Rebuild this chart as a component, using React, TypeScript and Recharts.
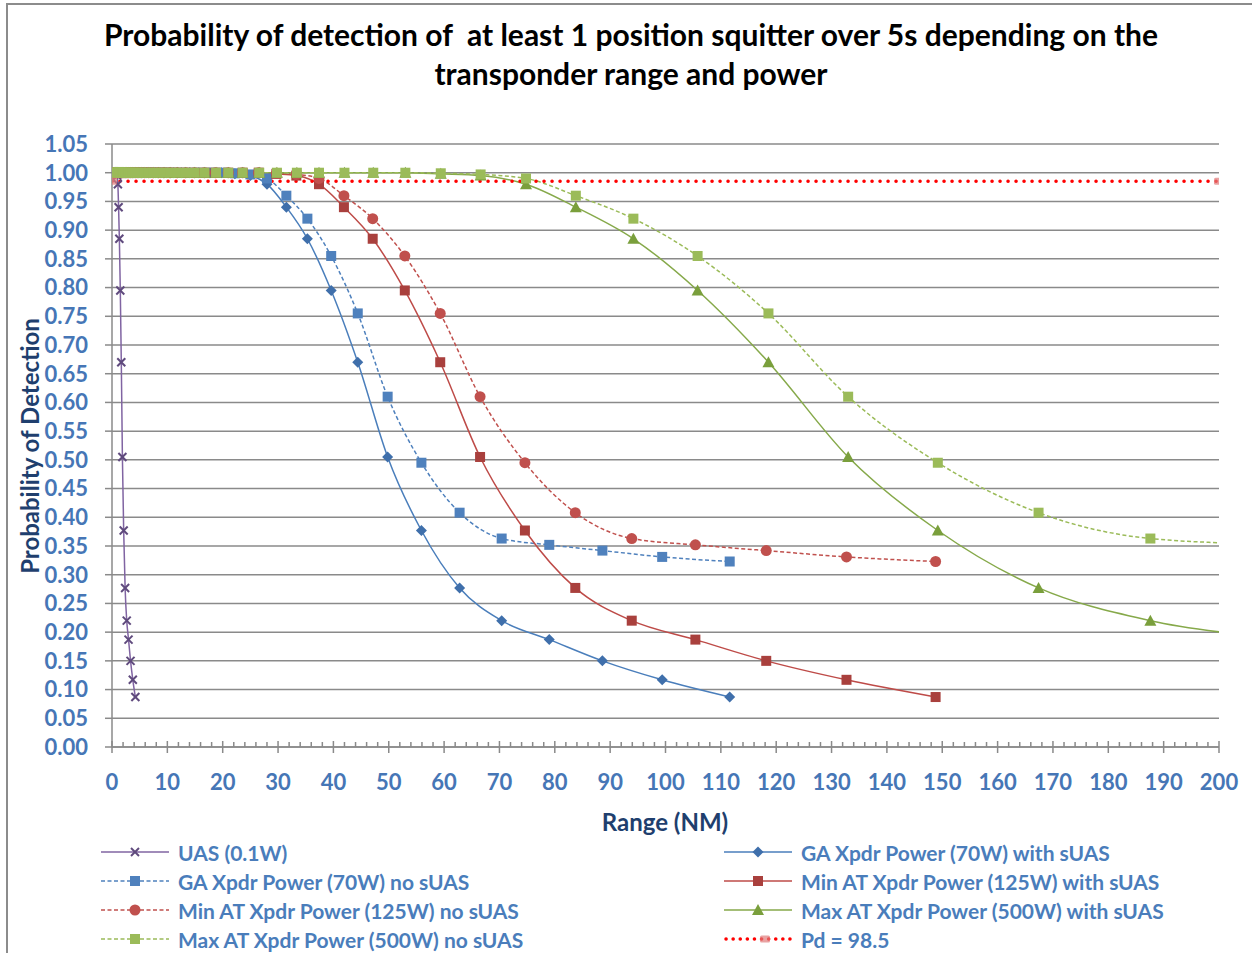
import React from 'react';
import { LineChart, Line, XAxis, YAxis, CartesianGrid } from 'recharts';

// Probability of detection per 1 dB power step (shared by all transponders)
const PD_WITH_SUAS = [
  1, 1, 1, 1, 1, 1, 1, 1, 1, 1, 1, 1, 1, 1, 1, 1, 1, 1, 1, 1,
  1, 1, 1, 1, 1, 1, 1, 1, 1, 1, 1, 1, 1, 1, 1, 1, 1, 1, 1, 1, 1,
  0.998, 0.995, 0.98, 0.94, 0.885, 0.795, 0.67, 0.505, 0.377, 0.277, 0.22, 0.187, 0.15, 0.117, 0.087,
];
const PD_NO_SUAS = [
  1, 1, 1, 1, 1, 1, 1, 1, 1, 1, 1, 1, 1, 1, 1, 1, 1, 1, 1, 1,
  1, 1, 1, 1, 1, 1, 1, 1, 1, 1, 1, 1, 1, 1, 1, 1, 1, 1, 1, 1, 1,
  0.999, 0.997, 0.99, 0.96, 0.92, 0.855, 0.755, 0.61, 0.495, 0.408, 0.363, 0.352, 0.342, 0.331, 0.323,
];

// Range (NM) for each step
const RANGE_UAS = [
  0.0075, 0.00842, 0.00945, 0.0106, 0.0119, 0.0133, 0.015, 0.0168, 0.0188, 0.0211, 0.0237, 0.0266, 0.0298, 0.0334,
  0.0375, 0.0421, 0.0472, 0.053, 0.0594, 0.0667, 0.0748, 0.084, 0.0942, 0.106, 0.119, 0.133, 0.149, 0.167, 0.188,
  0.211, 0.237, 0.266, 0.298, 0.335, 0.376, 0.422, 0.473, 0.531, 0.596, 0.669, 0.75, 0.842, 0.945,
  1.06, 1.19, 1.33, 1.5, 1.68, 1.88, 2.11, 2.37, 2.66, 2.99, 3.35, 3.76, 4.22,
];
const RANGE_GA = [
  0.199, 0.223, 0.25, 0.281, 0.315, 0.353, 0.396, 0.445, 0.499, 0.56, 0.628, 0.705, 0.79, 0.887, 0.995,
  1.12, 1.25, 1.4, 1.57, 1.77, 1.98, 2.22, 2.49, 2.8, 3.14, 3.52, 3.95, 4.43, 4.97, 5.58, 6.26, 7.02, 7.88, 8.84, 9.9,
  11.1, 12.5, 14.0, 15.7, 17.7, 19.8, 22.2, 25.0,
  28.0, 31.5, 35.3, 39.6, 44.4, 49.8, 55.9, 62.8, 70.4, 79.0, 88.6, 99.4, 111.6,
];
const RANGE_MIN_AT = [
  0.265, 0.297, 0.333, 0.374, 0.42, 0.471, 0.528, 0.593, 0.665, 0.746, 0.837, 0.939, 1.05, 1.18, 1.33,
  1.49, 1.67, 1.87, 2.1, 2.36, 2.64, 2.96, 3.33, 3.73, 4.19, 4.7, 5.27, 5.92, 6.64, 7.45, 8.36, 9.38, 10.5, 11.8,
  13.3, 14.9, 16.7, 18.7, 21.0, 23.6, 26.5, 29.7, 33.3,
  37.4, 41.9, 47.1, 52.9, 59.3, 66.5, 74.6, 83.7, 93.9, 105.4, 118.2, 132.7, 148.8,
];
const RANGE_MAX_AT = [
  0.53, 0.594, 0.666, 0.748, 0.84, 0.942, 1.06, 1.19, 1.33, 1.49, 1.67, 1.88, 2.1, 2.36, 2.66,
  2.98, 3.34, 3.74, 4.2, 4.72, 5.28, 5.92, 6.66, 7.46, 8.38, 9.4, 10.5, 11.8, 13.3, 14.9, 16.7, 18.8, 21.0, 23.6,
  26.6, 29.8, 33.4, 37.4, 42.0, 47.2, 53.0, 59.4, 66.6,
  74.8, 83.8, 94.2, 105.8, 118.6, 133.0, 149.2, 167.4, 187.6, 210.8, 236.4, 265.4, 297.6,
];

const PD_THRESHOLD = [
  { x: 0, y: 0.985 },
  { x: 200, y: 0.985 },
];

const Y_TICKS = [0, 0.05, 0.1, 0.15, 0.2, 0.25, 0.3, 0.35, 0.4, 0.45, 0.5, 0.55, 0.6, 0.65, 0.7, 0.75, 0.8, 0.85, 0.9, 0.95, 1, 1.05];
const X_TICKS = Array.from({ length: 101 }, (_, i) => i * 2);

const FONT = 'Lato, "Open Sans", sans-serif';
const GRID = '#8a8a8a';
const DASH = '4 2.5';

const toPoints = (xs: number[], ys: number[]) => xs.map((x, i) => ({ x, y: ys[i] }));

type MarkerKind = 'x' | 'diamond' | 'square' | 'circle' | 'triangle' | 'pd';

const MarkerShape = ({ kind, cx, cy, color }: { kind: MarkerKind; cx: number; cy: number; color: string }) => {
  switch (kind) {
    case 'x':
      return (
        <g stroke={color} strokeWidth={2}>
          <line x1={cx - 4} y1={cy - 4} x2={cx + 4} y2={cy + 4} />
          <line x1={cx - 4} y1={cy + 4} x2={cx + 4} y2={cy - 4} />
        </g>
      );
    case 'diamond':
      return <polygon points={`${cx},${cy - 5.5} ${cx + 5.5},${cy} ${cx},${cy + 5.5} ${cx - 5.5},${cy}`} fill={color} />;
    case 'square':
      return <rect x={cx - 5} y={cy - 5} width={10} height={10} fill={color} />;
    case 'circle':
      return <circle cx={cx} cy={cy} r={5.5} fill={color} />;
    case 'triangle':
      return <polygon points={`${cx},${cy - 6} ${cx + 6},${cy + 5} ${cx - 6},${cy + 5}`} fill={color} />;
    case 'pd':
      return <rect x={cx - 5} y={cy - 3.5} width={10} height={7} rx={1.5} fill="#e07a7a" opacity={0.7} />;
  }
  return null;
};

const dotRenderer = (kind: MarkerKind, color: string) => (props: any) => {
  const { cx, cy, index } = props;
  if (cx == null || cy == null) return <g key={`d-${index}`} />;
  return (
    <g key={`d-${index}`}>
      <MarkerShape kind={kind} cx={cx} cy={cy} color={color} />
    </g>
  );
};

type SeriesDef = {
  name: string;
  data: { x: number; y: number }[];
  stroke: string;
  marker: string;
  kind: MarkerKind;
  dash?: string;
};

const SERIES: SeriesDef[] = [
  { name: 'UAS (0.1W)', data: toPoints(RANGE_UAS, PD_WITH_SUAS), stroke: '#8064a2', marker: '#5f4a7d', kind: 'x' },
  { name: 'GA Xpdr Power (70W) with sUAS', data: toPoints(RANGE_GA, PD_WITH_SUAS), stroke: '#4a7ebb', marker: '#3f6fab', kind: 'diamond' },
  { name: 'GA Xpdr Power (70W) no sUAS', data: toPoints(RANGE_GA, PD_NO_SUAS), stroke: '#4f81bd', marker: '#4f81bd', kind: 'square', dash: DASH },
  { name: 'Min AT Xpdr Power (125W) with sUAS', data: toPoints(RANGE_MIN_AT, PD_WITH_SUAS), stroke: '#be4b48', marker: '#a9403d', kind: 'square' },
  { name: 'Min AT Xpdr Power (125W) no sUAS', data: toPoints(RANGE_MIN_AT, PD_NO_SUAS), stroke: '#c0504d', marker: '#c0504d', kind: 'circle', dash: DASH },
  { name: 'Max AT Xpdr Power (500W) with sUAS', data: toPoints(RANGE_MAX_AT, PD_WITH_SUAS), stroke: '#86a94a', marker: '#7a9f3c', kind: 'triangle' },
  { name: 'Max AT Xpdr Power (500W) no sUAS', data: toPoints(RANGE_MAX_AT, PD_NO_SUAS), stroke: '#9bbb59', marker: '#9bbb59', kind: 'square', dash: DASH },
];

const XTick = (props: any) => {
  const { x, y, payload } = props;
  const v = payload.value as number;
  const major = v % 10 === 0;
  return (
    <g>
      <line x1={x} x2={x} y1={major ? y - 6 : y - 5} y2={major ? y + 6 : y} stroke={GRID} strokeWidth={1.5} />
      {major && (
        <text x={x} y={y + 43} textAnchor="middle" fill="#4676b6" fontSize={22} fontWeight={700} fontFamily={FONT}>
          {v}
        </text>
      )}
    </g>
  );
};

const LegendIcon = ({ s }: { s: SeriesDef | null }) => (
  <svg width={68} height={16} style={{ display: 'block' }}>
    {s ? (
      <>
        <line x1={0} y1={8} x2={68} y2={8} stroke={s.stroke} strokeWidth={1.5} strokeDasharray={s.dash} />
        <MarkerShape kind={s.kind} cx={34} cy={8} color={s.marker} />
      </>
    ) : (
      <>
        <line x1={2} y1={8} x2={68} y2={8} stroke="#ff0000" strokeWidth={3.5} strokeDasharray="0.1 7" strokeLinecap="round" />
        <MarkerShape kind="pd" cx={41} cy={8} color="#e07a7a" />
      </>
    )}
  </svg>
);

const LEGEND_ROWS: { left: SeriesDef; right: SeriesDef | null; rightName: string }[] = [
  { left: SERIES[0], right: SERIES[1], rightName: SERIES[1].name },
  { left: SERIES[2], right: SERIES[3], rightName: SERIES[3].name },
  { left: SERIES[4], right: SERIES[5], rightName: SERIES[5].name },
  { left: SERIES[6], right: null, rightName: 'Pd = 98.5' },
];

const legendText: React.CSSProperties = {
  color: '#4a7dbb',
  fontSize: 21,
  fontWeight: 700,
  fontFamily: FONT,
  whiteSpace: 'nowrap',
  marginLeft: 9,
};

const axisTitle: React.CSSProperties = {
  fontFamily: FONT,
  fontWeight: 700,
  fontSize: 24,
  color: '#1f3f6e',
  textShadow: '0 0 2px #fff',
  textAlign: 'center',
  whiteSpace: 'nowrap',
};

export default function App() {
  return (
    <div style={{ position: 'absolute', left: 0, top: 0, width: 1252, height: 953, background: '#fff', overflow: 'hidden' }}>
      {/* chart frame */}
      <div style={{ position: 'absolute', left: 6, top: 3, width: 1300, height: 1000, borderLeft: '2px solid #8c8c8c', borderTop: '2px solid #8c8c8c' }} />

      <div
        style={{
          position: 'absolute',
          left: 0,
          top: 15,
          width: 1262,
          textAlign: 'center',
          fontFamily: FONT,
          fontWeight: 700,
          fontSize: 30,
          lineHeight: '39px',
          color: '#000',
          whiteSpace: 'pre',
        }}
      >
        {'Probability of detection of  at least 1 position squitter over 5s depending on the\ntransponder range and power'}
      </div>

      <div style={{ position: 'absolute', left: 0, top: 0 }}>
        <LineChart width={1252} height={953} margin={{ top: 144, right: 33, bottom: 146, left: 0 }}>
          <CartesianGrid vertical={false} stroke={GRID} strokeWidth={1.5} />
          <XAxis
            dataKey="x"
            type="number"
            domain={[0, 200]}
            allowDataOverflow
            ticks={X_TICKS}
            interval={0}
            height={60}
            tickLine={false}
            tickSize={0}
            tickMargin={0}
            tick={<XTick />}
            axisLine={{ stroke: GRID, strokeWidth: 1.5 }}
          />
          <YAxis
            type="number"
            domain={[0, 1.05]}
            ticks={Y_TICKS}
            interval={0}
            width={112}
            tickSize={7}
            tickMargin={17}
            tickFormatter={(v: number) => v.toFixed(2)}
            tick={{ fill: '#4676b6', fontSize: 22, fontWeight: 700, fontFamily: FONT }}
            tickLine={{ stroke: GRID, strokeWidth: 1.5 }}
            axisLine={{ stroke: GRID, strokeWidth: 1.5 }}
          />
          {SERIES.map((s) => (
            <Line
              key={s.name}
              name={s.name}
              data={s.data}
              dataKey="y"
              type="monotone"
              stroke={s.stroke}
              strokeWidth={1.5}
              strokeDasharray={s.dash}
              dot={dotRenderer(s.kind, s.marker)}
              activeDot={false}
              isAnimationActive={false}
            />
          ))}
          <Line
            name="Pd = 98.5"
            data={PD_THRESHOLD}
            dataKey="y"
            type="linear"
            stroke="#ff0000"
            strokeWidth={3.5}
            strokeDasharray="0.1 7.9"
            strokeLinecap="round"
            dot={dotRenderer('pd', '#e07a7a')}
            activeDot={false}
            isAnimationActive={false}
          />
        </LineChart>
      </div>

      {/* axis titles */}
      <div style={{ ...axisTitle, position: 'absolute', left: 515, top: 807, width: 300 }}>Range (NM)</div>
      <div
        style={{
          ...axisTitle,
          position: 'absolute',
          left: 30 - 150,
          top: 446 - 15,
          width: 300,
          height: 30,
          lineHeight: '30px',
          transform: 'rotate(-90deg)',
        }}
      >
        Probability of Detection
      </div>

      {/* legend */}
      {LEGEND_ROWS.map((row, i) => (
        <React.Fragment key={`leg-${i}`}>
          <div style={{ position: 'absolute', left: 101, top: 852 + i * 29 - 14, height: 28, display: 'flex', alignItems: 'center' }}>
            <LegendIcon s={row.left} />
            <span style={legendText}>{row.left.name}</span>
          </div>
          <div style={{ position: 'absolute', left: 724, top: 852 + i * 29 - 14, height: 28, display: 'flex', alignItems: 'center' }}>
            <LegendIcon s={row.right} />
            <span style={legendText}>{row.rightName}</span>
          </div>
        </React.Fragment>
      ))}
    </div>
  );
}
